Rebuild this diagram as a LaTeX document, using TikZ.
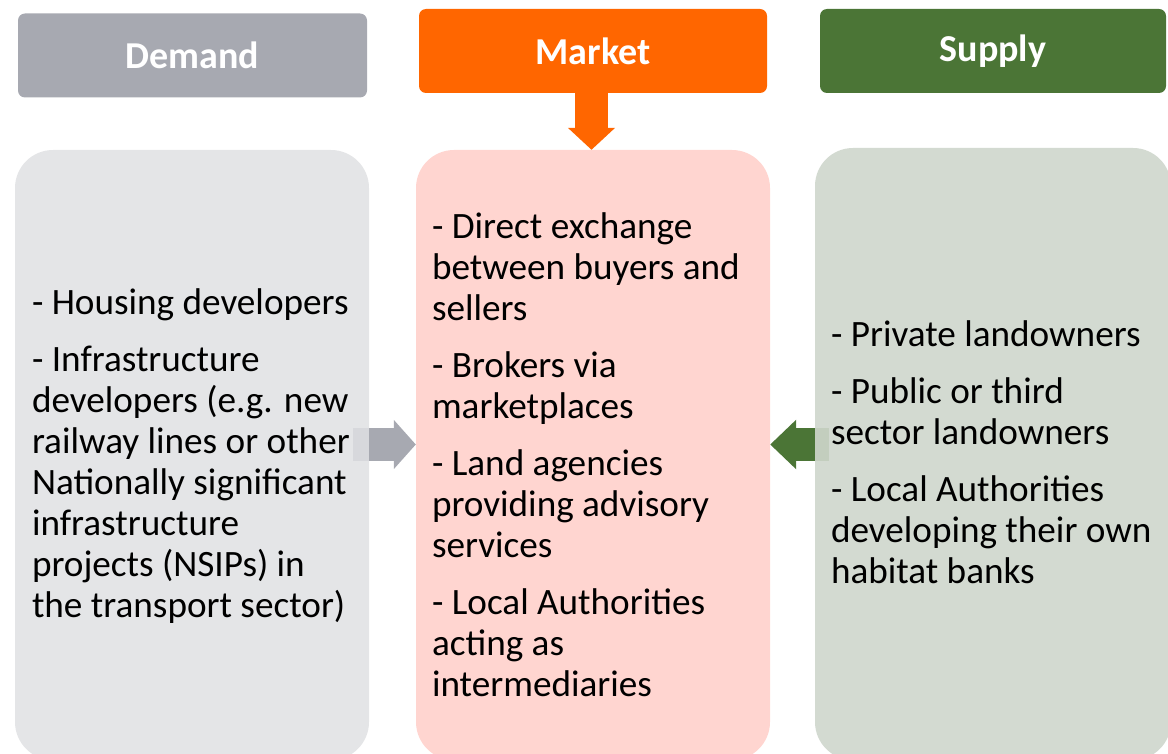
\documentclass[tikz,border=0pt]{standalone}
\usepackage{fontspec}
\setmainfont{Carlito}
\usepackage{tikz}
\usetikzlibrary{arrows.meta,positioning}

\definecolor{demgrey}{HTML}{A7A9B1}
\definecolor{demlight}{HTML}{E4E5E7}
\definecolor{mktorange}{HTML}{FF6600}
\definecolor{mktpink}{HTML}{FFD5D0}
\definecolor{supgreen}{HTML}{4B7536}
\definecolor{suplight}{HTML}{D3DAD1}

\begin{document}
\begin{tikzpicture}[x=1pt,y=-1pt,
                    head/.style={rounded corners=7pt,minimum height=84pt,inner sep=0pt,
                      font=\fontsize{38}{42}\selectfont\bfseries,text=white},
                    body/.style={rounded corners=38pt,minimum width=354pt,minimum height=610pt,inner sep=0pt},
                    bodytxt/.style={align=left,inner sep=0pt,anchor=west,font=\fontsize{37.2}{41}\selectfont},
                    blockarrow/.style={line width=33pt}]
\useasboundingbox (0,0) rectangle (1168,754);
\tikzstyle{every node}=[text=black]

% top headers
\node [head,fill=demgrey,minimum width=349pt,text=white] (demhead) at (192.5,55.5) {Demand};
\node [head,fill=mktorange,minimum width=348pt,text=white] (mkthead) at (593,51) {Market};
\node [head,fill=supgreen,minimum width=346pt,text=white] (suphead) at (993,51) {Supply};

% columns
\node [body,fill=demlight] (dembody) at (192,455) {};
\node [body,fill=mktpink] (mktbody) at (593,455) {};
\node [body,fill=suplight,minimum width=356pt,minimum height=612pt] (supbody) at (993,454) {};

\node [bodytxt] (demtxt) at ([xshift=17pt,yshift=-1pt]dembody.west)
  {- Housing developers\\[16pt]
   - Infrastructure\\
   developers (e.g. new\\
   railway lines or other\\
   Nationally significant\\
   infrastructure\\
   projects (NSIPs) in\\
   the transport sector)};
\node [bodytxt] (mkttxt) at ([xshift=16pt]mktbody.west)
  {- Direct exchange\\
   between buyers and\\
   sellers\\[16pt]
   - Brokers via\\
   marketplaces\\[16pt]
   - Land agencies\\
   providing advisory\\
   services\\[16pt]
   - Local Authorities\\
   acting as\\
   intermediaries};
\node [bodytxt] (suptxt) at ([xshift=16pt,yshift=2pt]supbody.west)
  {- Private landowners\\[16pt]
   - Public or third\\
   sector landowners\\[16pt]
   - Local Authorities\\
   developing their own\\
   habitat banks};

% arrows between the columns
\coordinate (arrowy) at (0,444.5);
\fill [demgrey!45] ([xshift=-16pt]dembody.east |- arrowy) ++(0,-16.5) rectangle ++(16,33);
\draw [blockarrow,demgrey,-{Triangle[width=48pt,length=22pt]}]
  (dembody.east |- arrowy) -- (mktbody.west |- arrowy);
\fill [supgreen!12!suplight] (supbody.west |- arrowy) ++(0,-16.5) rectangle ++(14,33);
\draw [blockarrow,supgreen,-{Triangle[width=48pt,length=26pt]}]
  (supbody.west |- arrowy) -- (mktbody.east |- arrowy);
\draw [blockarrow,mktorange,-{Triangle[width=46pt,length=22pt]}]
  ([xshift=-1.5pt]mkthead.south) -- ([xshift=-1.5pt]mkthead.south |- mktbody.north);

\end{tikzpicture}
\end{document}
